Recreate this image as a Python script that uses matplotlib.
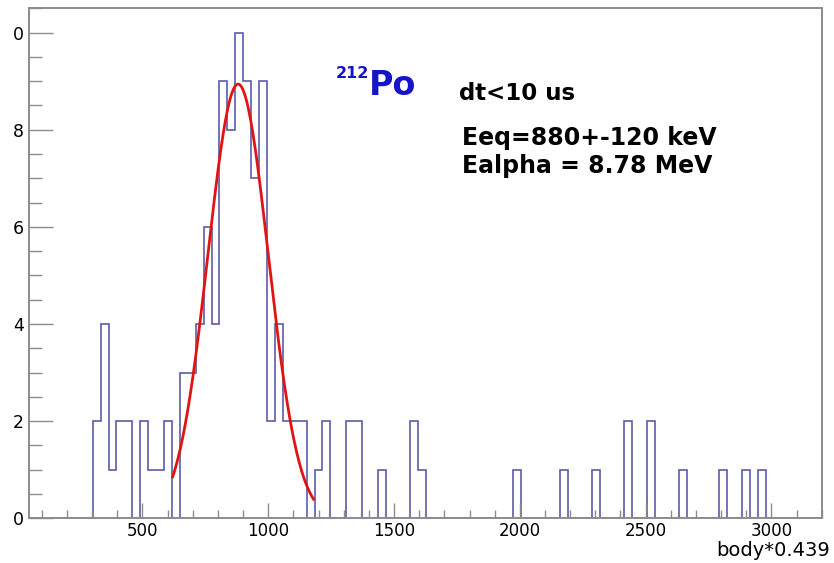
import numpy as np
import matplotlib
matplotlib.use("Agg")
import matplotlib.pyplot as plt
from matplotlib.ticker import MultipleLocator
from matplotlib.transforms import Bbox, TransformedBbox

# histogram: 100 bins between 50 and 3200 (body*0.439)
x_min, x_max, n_bins = 50, 3200, 100
# non-empty bins: index -> entries
bin_idx = [8, 9, 10, 11, 12, 14, 15, 16, 17, 19, 20, 21, 22, 23, 24, 25, 26, 27, 28, 29,
           30, 31, 32, 33, 34, 36, 37, 40, 41, 44, 48, 49,
           61, 67, 71, 75, 78, 82, 87, 90, 92]
bin_cnt = [2, 4, 1, 2, 2, 2, 1, 1, 2, 3, 3, 4, 6, 4, 9, 8, 10, 9, 7, 9,
           2, 4, 2, 2, 2, 1, 2, 2, 2, 1, 2, 1,
           1, 1, 1, 2, 2, 1, 1, 1, 1]

# gaussian fit
fit_amp, fit_mean, fit_sigma = 8.94, 880, 120
fit_lo, fit_hi = 620, 1180

counts = np.zeros(n_bins)
counts[bin_idx] = bin_cnt
edges = np.linspace(x_min, x_max, n_bins + 1)

fig = plt.figure(figsize=(8.34, 5.63), dpi=100)
ax = fig.add_axes([0.0351, 0.0794, 0.9502, 0.9059])

ax.stairs(counts, edges, color="#5c5ca4", lw=1.2)

xf = np.linspace(fit_lo, fit_hi, 300)
ax.plot(xf, fit_amp * np.exp(-0.5 * ((xf - fit_mean) / fit_sigma) ** 2), color="#e01414", lw=2)

ax.set_xlim(x_min, x_max)
ax.set_ylim(0, 10.5)

frame_col = "#8c8c8c"
for s in ax.spines.values():
    s.set_color(frame_col)
    s.set_linewidth(1.4)

ax.xaxis.set_major_locator(MultipleLocator(500))
ax.xaxis.set_minor_locator(MultipleLocator(100))
ax.yaxis.set_major_locator(MultipleLocator(2))
ax.yaxis.set_minor_locator(MultipleLocator(0.5))
ax.tick_params(axis="both", which="both", direction="in", color=frame_col, width=1,
               top=False, right=False)
ax.tick_params(axis="x", which="major", length=11, pad=3, labelsize=12)
ax.tick_params(axis="x", which="minor", length=6)
ax.tick_params(axis="y", which="major", length=17, pad=4, labelsize=12.5)
ax.tick_params(axis="y", which="minor", length=9.5)
ax.set_xticks([500, 1000, 1500, 2000, 2500, 3000])
ax.set_yticks([0, 2, 4, 6, 8, 10])

# left edge of the picture is cut off
cut = TransformedBbox(Bbox([[14 / 834, 0], [1, 1]]), fig.transFigure)
for lbl in ax.get_yticklabels():
    lbl.set_clip_on(True)
    lbl.set_clip_box(cut)

fig.text(830 / 834, 1 - 556 / 563, "body*0.439", ha="right", va="baseline", fontsize=14)

blue = "#1414c8"
fig.text(336 / 834, 1 - 78.5 / 563, "212", color=blue, fontsize=11.5, fontweight="bold",
         ha="left", va="baseline")
fig.text(369 / 834, 1 - 95 / 563, "Po", color=blue, fontsize=24, fontweight="bold",
         ha="left", va="baseline")

fig.text(459 / 834, 1 - 99.5 / 563, "dt<10 us", fontsize=16.5, fontweight="bold",
         ha="left", va="baseline")
fig.text(462 / 834, 1 - 145 / 563, "Eeq=880+-120 keV", fontsize=17, fontweight="bold",
         ha="left", va="baseline")
fig.text(462 / 834, 1 - 173 / 563, "Ealpha = 8.78 MeV", fontsize=17, fontweight="bold",
         ha="left", va="baseline")

fig.savefig("out.png", dpi=100)
